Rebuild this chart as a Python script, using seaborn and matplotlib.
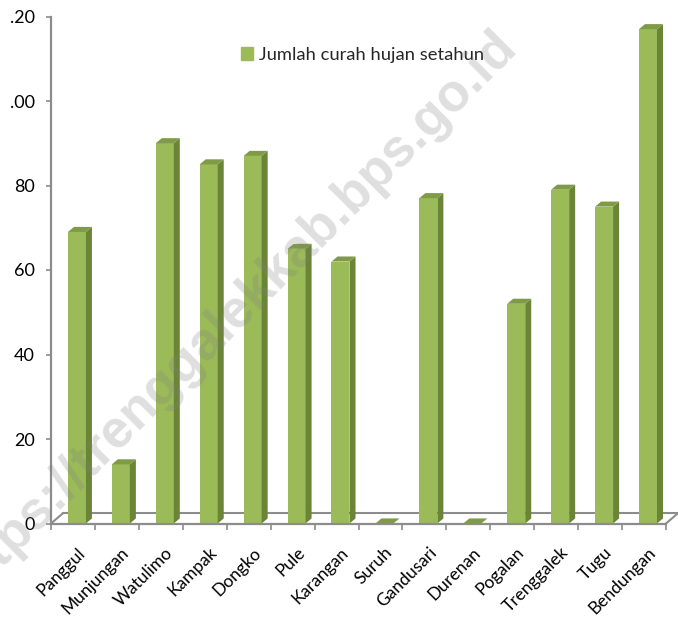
import numpy as np
import pandas as pd
import matplotlib.pyplot as plt
import seaborn as sns
from matplotlib.patches import Polygon, Patch
from matplotlib.lines import Line2D

# Data
kecamatan = ["Panggul", "Munjungan", "Watulimo", "Kampak", "Dongko", "Pule", "Karangan",
             "Suruh", "Gandusari", "Durenan", "Pogalan", "Trenggalek", "Tugu", "Bendungan"]
curah_hujan = [69, 14, 90, 85, 87, 65, 62, 0, 77, 0, 52, 79, 75, 117]
y_ticks = [0, 20, 40, 60, 80, 100, 120]
y_labels = ["0", "20", "40", "60", "80", ".00", ".20"]
series_name = "Jumlah curah hujan setahun"

df = pd.DataFrame({"kecamatan": kecamatan, "curah": curah_hujan})

sns.set_style("white")
plt.rcParams["font.family"] = ["Lato", "DejaVu Sans"]

front = "#9bbb59"
side = "#6a8537"
top = "#7f9b46"
axis_gray = "#8c8c8c"

fig = plt.figure(figsize=(6.78, 6.22), dpi=100)
ax = fig.add_axes([51 / 678, 1 - 523.5 / 622, 615 / 678, 507 / 622])

sns.barplot(data=df, x="kecamatan", y="curah", color=front, width=0.41,
            saturation=1, linewidth=0, ax=ax, zorder=2)

# fake 3D depth for each bar
dx, dy = 0.137, 1.2
shift = 0.09
for p in list(ax.patches):
    p.set_x(p.get_x() + shift)
    p.set_edgecolor("none")
    x0, w, h = p.get_x(), p.get_width(), p.get_height()
    x1 = x0 + w
    ax.add_patch(Polygon([(x1, 0), (x1 + dx, dy), (x1 + dx, h + dy), (x1, h)],
                         closed=True, fc=side, ec="none", zorder=2))
    ax.add_patch(Polygon([(x0, h), (x1, h), (x1 + dx, h + dy), (x0 + dx, h + dy)],
                         closed=True, fc=top, ec="none", zorder=2))

ax.set_xlim(-0.5, len(kecamatan) - 0.5)
ax.set_ylim(0, 120)

# floor of the 3D box
fdx, fdy = 0.28, 2.5
n = len(kecamatan)
for xs, ys in [([-0.5 + fdx, n - 0.5 + fdx], [fdy, fdy]),
               ([-0.5, -0.5 + fdx], [0, fdy]),
               ([n - 0.5, n - 0.5 + fdx], [0, fdy])]:
    ax.add_line(Line2D(xs, ys, color=axis_gray, lw=1.5, zorder=1, clip_on=False))

sns.despine(ax=ax, top=True, right=True)
for s in ["left", "bottom"]:
    ax.spines[s].set_color(axis_gray)
    ax.spines[s].set_linewidth(1.6)

ax.set_yticks(y_ticks)
ax.set_yticklabels(y_labels)
ax.tick_params(axis="y", length=3.6, width=1.2, color=axis_gray, pad=8,
               labelsize=13, labelcolor="black", left=True)

ax.set_xticks(np.arange(n) + shift)
ax.set_xticklabels(kecamatan, rotation=45, ha="right", rotation_mode="anchor")
ax.tick_params(axis="x", length=0, pad=15, labelsize=12.5, labelcolor="black")
ax.set_xticks(np.arange(n + 1) - 0.5, minor=True)
ax.tick_params(axis="x", which="minor", length=4.5, width=1.2, color=axis_gray, bottom=True)
ax.set_xlabel("")
ax.set_ylabel("")
ax.grid(False)

fig.legend(handles=[Patch(color=front, label=series_name)],
           loc="center left", bbox_to_anchor=(241 / 678, 1 - 55 / 622),
           frameon=False, fontsize=13.2, handlelength=0.65, handleheight=0.65,
           handletextpad=0.35, borderpad=0, borderaxespad=0)

# watermark
fig.text(232 / 678, 1 - 315 / 622, "https://trenggalekkab.bps.go.id",
         rotation=45, ha="center", va="center", fontsize=38, fontweight="bold",
         family=["Liberation Sans"], color="#808080", alpha=0.25, zorder=10)

fig.savefig("out.png", dpi=100)
